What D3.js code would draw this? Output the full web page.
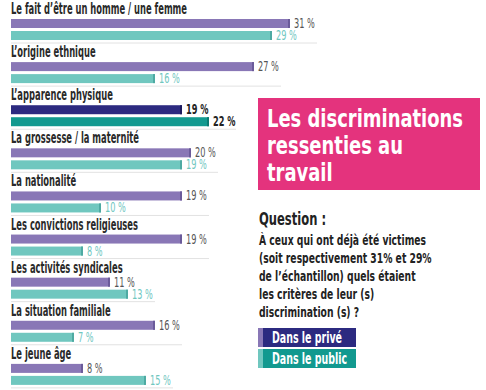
<!DOCTYPE html>
<html><head><meta charset="utf-8">
<script src="https://cdn.jsdelivr.net/npm/d3@7"></script>
<style>
html,body{margin:0;padding:0;background:#fff;}
svg{display:block;}
text{font-family:"Liberation Sans Narrow","DejaVu Sans Condensed","Roboto",sans-serif;}
</style></head>
<body>
<svg id="chart" width="486" height="390"></svg>
<script>
const categories = ["Le fait d’être un homme / une femme","L’origine ethnique","L’apparence physique","La grossesse / la maternité","La nationalité","Les convictions religieuses","Les activités syndicales","La situation familiale","Le jeune âge"];
const prive = [31,27,19,20,19,19,11,16,8];
const publicV = [29,16,22,19,10,8,13,7,15];
const highlighted = "L’apparence physique";
const seriesNames = ["Dans le privé","Dans le public"];
const titleLines = ["Les discriminations","ressenties au","travail"];
const questionTitle = "Question :";
const questionLines = ["À ceux qui ont déjà été victimes","(soit respectivement 31% et 29%","de l’échantillon) quels étaient","les critères de leur (s)","discrimination (s) ?"];

const svg = d3.select("#chart");
const C = {purple:"#8977b6", purpleEdge:"#6b5b9a", teal:"#70c7bf", tealEdge:"#4eaaa2",
  navy:"#2c2a80", navyEdge:"#1d1b5e", dteal:"#12998f", dtealEdge:"#0b7a72",
  pink:"#e4337d", text:"#2a2a2a", grey:"#555"};

// horizontal fitting: ratio derived from the first text of a selection and a reference width
function fitGroup(sel, refWidth){
  const nodes = sel.nodes();
  const k = refWidth / nodes[0].getComputedTextLength();
  nodes.forEach(n=>{ const w=n.getComputedTextLength(); d3.select(n).attr("textLength", w*k).attr("lengthAdjust","spacingAndGlyphs"); });
  return k;
}
function fitK(sel,k){ sel.each(function(){ const w=this.getComputedTextLength(); d3.select(this).attr("textLength",w*k).attr("lengthAdjust","spacingAndGlyphs"); }); }

const x = d3.scaleLinear().domain([0,31]).range([11,290]);
const y = d3.scaleBand().domain(categories).range([0,388]);

const data = categories.map((c,i)=>({c, p:prive[i], q:publicV[i], hi:c===highlighted}));
const g = svg.selectAll("g.grp").data(data).join("g").attr("class","grp")
  .attr("transform",d=>`translate(0,${y(d.c)})`);

g.append("line").attr("x1",11).attr("x2",d=>x(Math.max(d.p,d.q))+27)
  .attr("y1",43).attr("y2",43).attr("stroke","#e2e2e2").attr("stroke-width",1);

const K = fitGroup(g.append("text").attr("x",11).attr("y",14).attr("font-size",15)
  .attr("font-weight","bold").attr("fill",C.text).text(d=>d.c), 176);

function bar(yOff, key, fill, edge){
  g.append("rect").attr("x",x(0)).attr("y",yOff).attr("height",9)
    .attr("width",d=>x(d[key])-x(0)).attr("fill",d=>d.hi?fill[1]:fill[0]);
  g.append("rect").attr("x",d=>x(d[key])-2).attr("y",yOff).attr("height",9).attr("width",2)
    .attr("fill",d=>d.hi?edge[1]:edge[0]);
}
bar(19,"p",[C.purple,C.navy],[C.purpleEdge,C.navyEdge]);
bar(31,"q",[C.teal,C.dteal],[C.tealEdge,C.dtealEdge]);

fitK(g.append("text").attr("x",d=>x(d.p)+4).attr("y",28).attr("font-size",14)
  .attr("font-weight",d=>d.hi?"bold":"normal")
  .attr("fill",d=>d.hi?"#222":C.grey).text(d=>d.p+" %"), K*1.05);
fitK(g.append("text").attr("x",d=>x(d.q)+4).attr("y",40).attr("font-size",14)
  .attr("font-weight",d=>d.hi?"bold":"normal")
  .attr("fill",d=>d.hi?"#222":C.teal).text(d=>d.q+" %"), K*1.05);

// title box
svg.append("rect").attr("x",258).attr("y",98).attr("width",222).attr("height",92).attr("fill",C.pink);
fitGroup(svg.selectAll("text.title").data(titleLines).join("text").attr("class","title")
  .attr("x",267).attr("y",(d,i)=>127+i*27).attr("font-size",25).attr("font-weight","bold")
  .attr("fill","#fff").text(d=>d), 196);

fitGroup(svg.append("text").attr("x",259).attr("y",225).attr("font-size",18).attr("font-weight","bold")
  .attr("fill","#222").text(questionTitle), 67);
fitGroup(svg.selectAll("text.q").data(questionLines).join("text").attr("class","q")
  .attr("x",259).attr("y",(d,i)=>245+i*18).attr("font-size",14).attr("font-weight","bold")
  .attr("fill","#222").text(d=>d), 167);

// legend
const leg = svg.selectAll("g.leg").data(seriesNames).join("g").attr("class","leg")
  .attr("transform",(d,i)=>`translate(258,${328+i*21})`);
leg.append("rect").attr("width",98).attr("height",19).attr("fill",(d,i)=>i?C.dteal:C.navy);
leg.append("rect").attr("width",5).attr("height",19).attr("fill",(d,i)=>i?C.teal:C.purple);
fitGroup(leg.append("text").attr("x",14).attr("y",15).attr("font-size",15).attr("font-weight","bold")
  .attr("fill","#fff").text(d=>d), 70);
</script>
</body></html>
